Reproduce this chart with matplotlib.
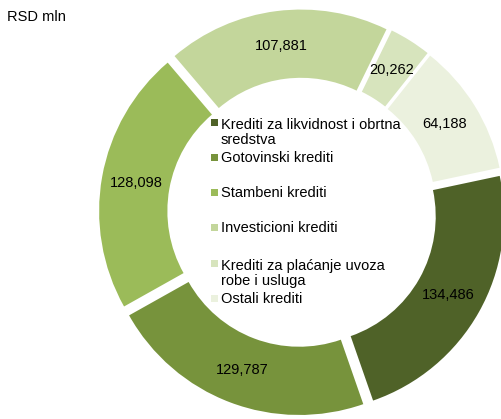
import matplotlib
matplotlib.use("Agg")
import matplotlib.pyplot as plt

categories = [
    "Krediti za likvidnost i obrtna\nsredstva",
    "Gotovinski krediti",
    "Stambeni krediti",
    "Investicioni krediti",
    "Krediti za plaćanje uvoza\nrobe i usluga",
    "Ostali krediti",
]
values = [134486, 129787, 128098, 107881, 20262, 64188]
colors = ["#4F6228", "#77933C", "#9BBB59", "#C3D69B", "#D7E4BD", "#EBF1DE"]
unit_label = "RSD mln"

plt.rcParams["font.family"] = ["Liberation Sans", "DejaVu Sans"]

W, H = 501, 419
fig = plt.figure(figsize=(W / 100, H / 100), dpi=100)
ax = fig.add_axes([0, 0, 1, 1])

R_PX = 195.0
CX, CY = 302.0, 212.5

wedges, texts, autotexts = ax.pie(
    values,
    colors=colors,
    startangle=12,
    counterclock=False,
    radius=1.0,
    explode=[8 / R_PX] * len(values),
    wedgeprops=dict(width=0.35, edgecolor="none", linewidth=0),
    autopct=lambda p: "",
    pctdistance=0.82,
    textprops=dict(fontsize=10.5, color="#000000"),
)
for t, v in zip(autotexts, values):
    t.set_text(f"{v:,}")
    t.set_fontsize(10.5)

ax.set_xlim(-CX / R_PX, (W - CX) / R_PX)
ax.set_ylim((CY - H) / R_PX, CY / R_PX)
ax.set_aspect("equal", adjustable="datalim")
ax.axis("off")

# legend inside the hole
LINE_PX = 17
legend_baselines = [127, 162, 197, 232, 268, 303]
for lab, col, yb in zip(categories, colors, legend_baselines):
    nlines = lab.count("\n") + 1
    fig.patches.append(plt.Rectangle((211 / W, 1 - (yb - 1) / H), 7 / W, 7 / H,
                                     transform=fig.transFigure, facecolor=col,
                                     edgecolor="none"))
    y_last = yb + (nlines - 1) * LINE_PX
    fig.text(221 / W, 1 - y_last / H, lab, fontsize=10.5, va="baseline", ha="left",
             linespacing=1.13, color="#000000")

fig.text(7 / W, 1 - 21 / H, unit_label, fontsize=10.5, va="baseline", ha="left",
         color="#000000")

fig.savefig("out.png", dpi=100)
